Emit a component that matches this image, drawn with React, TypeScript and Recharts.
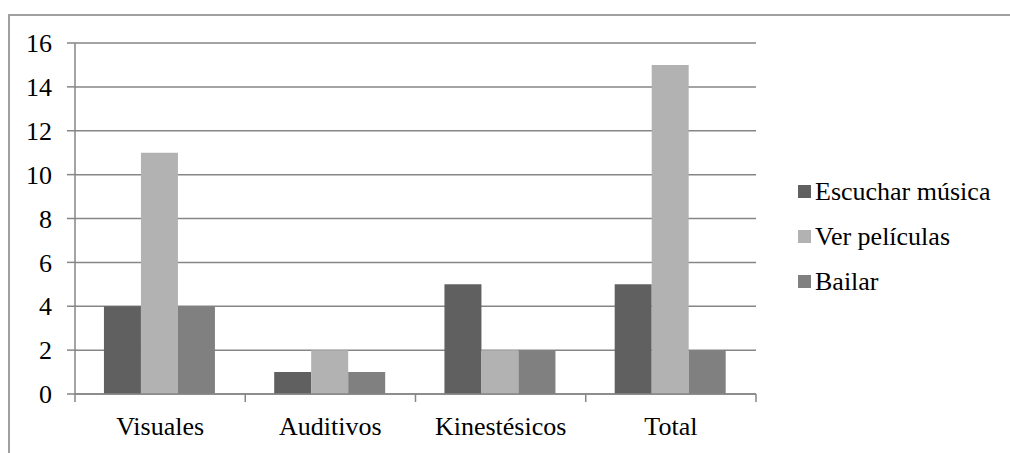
import React from "react";
import { BarChart, Bar, XAxis, YAxis, CartesianGrid } from "recharts";

const categories = ["Visuales", "Auditivos", "Kinestésicos", "Total"];
const escucharMusica = [4, 1, 5, 5];
const verPeliculas = [11, 2, 2, 15];
const bailar = [4, 1, 2, 2];
const yTicks = [0, 2, 4, 6, 8, 10, 12, 14, 16];

const seriesNames = ["Escuchar música", "Ver películas", "Bailar"];
const seriesColors = ["#606060", "#b2b2b2", "#808080"];

const data = categories.map((c, i) => ({
  name: c,
  s0: escucharMusica[i],
  s1: verPeliculas[i],
  s2: bailar[i],
}));

const FONT = "'Liberation Serif', 'Times New Roman', Tinos, 'DejaVu Serif', serif";
const AXIS = "#868686";

const CategoryTick = (props: any) => {
  const { x, y, payload, index, width, visibleTicksCount } = props;
  const n = visibleTicksCount || 4;
  const band = width / n;
  const left = x - band / 2;
  return (
    <g>
      <line x1={left} x2={left} y1={y} y2={y + 8} stroke={AXIS} strokeWidth={1.5} />
      {index === n - 1 && (
        <line x1={x + band / 2} x2={x + band / 2} y1={y} y2={y + 8} stroke={AXIS} strokeWidth={1.5} />
      )}
      <text x={x} y={y + 41} textAnchor="middle" fill="#000" fontSize={26} style={{ fontFamily: FONT }}>
        {payload.value}
      </text>
    </g>
  );
};

export default function App() {
  return (
    <div style={{ position: "absolute", left: 0, top: 0, width: 1010, height: 453, overflow: "hidden", background: "#fff", fontFamily: FONT }}>
      <div
        style={{
          position: "absolute",
          left: 8,
          top: 14,
          width: 1010,
          height: 453,
          borderLeft: "2px solid #a0a0a0",
          borderTop: "2px solid #a0a0a0",
          boxSizing: "border-box",
        }}
      />
      <div style={{ position: "absolute", left: 0, top: 0 }}>
        <BarChart
          width={1010}
          height={453}
          data={data}
          margin={{ top: 43, right: 254, bottom: 0, left: 0 }}
          barCategoryGap="17%"
          barGap={0}
          style={{ fontFamily: FONT }}
        >
          <CartesianGrid vertical={false} stroke={AXIS} strokeWidth={1.5} />
          <XAxis
            dataKey="name"
            height={59}
            tickSize={0}
            tickMargin={0}
            tickLine={false}
            axisLine={{ stroke: AXIS, strokeWidth: 1.5 }}
            tick={<CategoryTick />}
            interval={0}
          />
          <YAxis
            width={75}
            domain={[0, 16]}
            ticks={yTicks}
            interval={0}
            tickSize={8}
            tickMargin={15}
            tickLine={{ stroke: AXIS, strokeWidth: 1.5 }}
            axisLine={{ stroke: AXIS, strokeWidth: 1.5 }}
            tick={{ fill: "#000", fontSize: 26, fontFamily: FONT }}
          />
          {["s0", "s1", "s2"].map((k, i) => (
            <Bar key={k} dataKey={k} name={seriesNames[i]} fill={seriesColors[i]} isAnimationActive={false} />
          ))}
        </BarChart>
      </div>
      <div style={{ position: "absolute", left: 798, top: 169, fontFamily: FONT, fontSize: 26, color: "#000" }}>
        {seriesNames.map((n, i) => (
          <div key={n} style={{ display: "flex", alignItems: "center", height: 45, whiteSpace: "nowrap" }}>
            <span style={{ display: "inline-block", width: 13, height: 13, background: seriesColors[i], marginRight: 4 }} />
            <span>{n}</span>
          </div>
        ))}
      </div>
    </div>
  );
}
